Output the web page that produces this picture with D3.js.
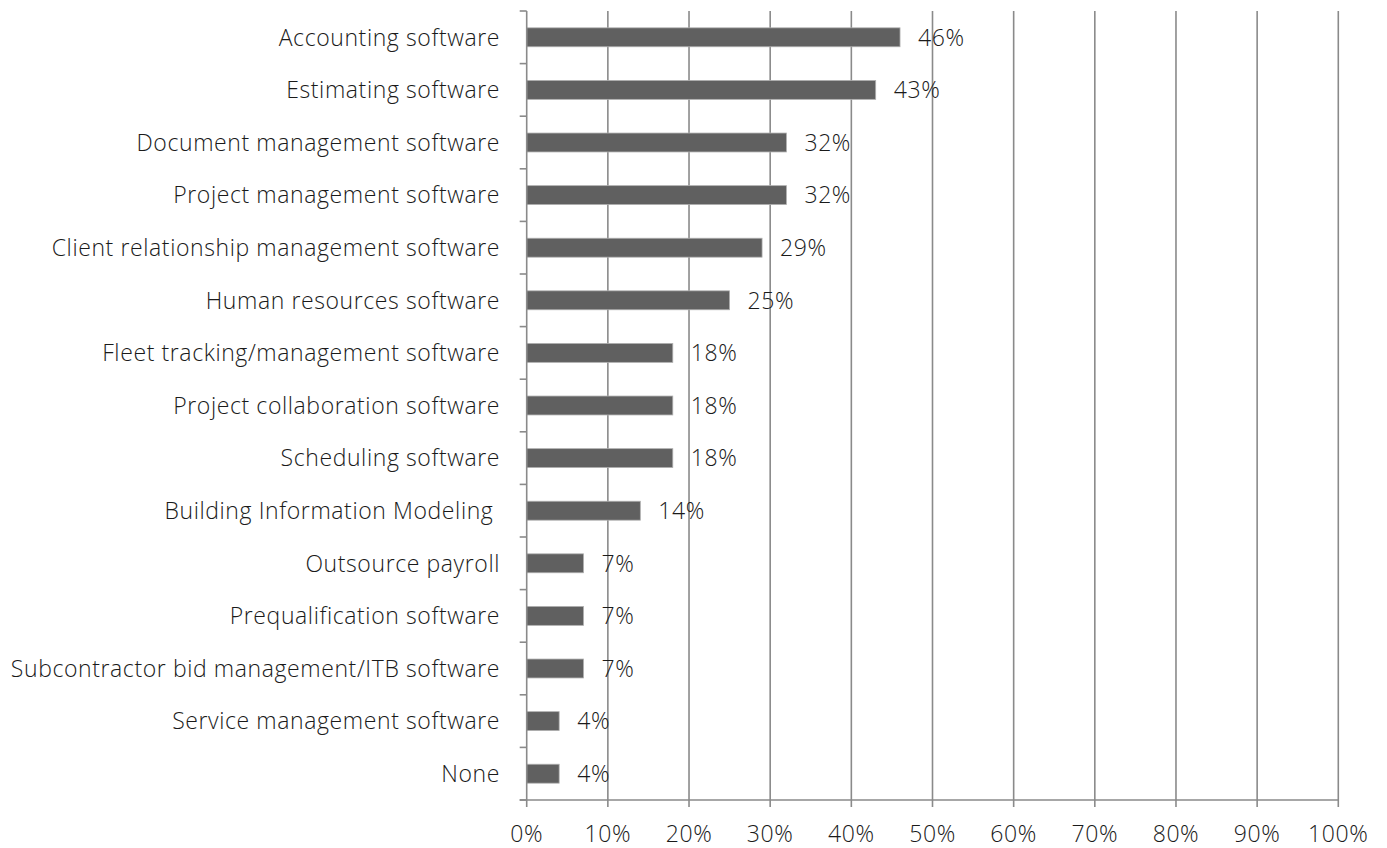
<!DOCTYPE html>
<html><head><meta charset="utf-8">
<script src="https://cdn.jsdelivr.net/npm/d3@7"></script>
<style>
body{margin:0;background:#fff;}
svg text{font-family:"Open Sans","Noto Sans",sans-serif;font-weight:300;fill:#1a1a1a;}
</style></head>
<body><svg id="c" width="1387" height="848"></svg>
<script>
const categories = ["Accounting software","Estimating software","Document management software","Project management software","Client relationship management software","Human resources software","Fleet tracking/management software","Project collaboration software","Scheduling software","Building Information Modeling ","Outsource payroll","Prequalification software","Subcontractor bid management/ITB software","Service management software","None"];
const values = [46,43,32,32,29,25,18,18,18,14,7,7,7,4,4];
const xTicks = [0,10,20,30,40,50,60,70,80,90,100];

const svg = d3.select("#c");
const pLeft = 526.7, pRight = 1338.3, pTop = 11, pBottom = 800;
const fs = 23, ls = "0.6px";
const x = d3.scaleLinear().domain([0,100]).range([pLeft,pRight]);
const y = d3.scaleBand().domain(categories).range([pTop,pBottom]).paddingInner(0.64).paddingOuter(0.32);

// gridlines
svg.append("g").selectAll("line").data(xTicks.slice(1)).join("line")
  .attr("x1",d=>x(d)).attr("x2",d=>x(d)).attr("y1",pTop).attr("y2",pBottom+7)
  .attr("stroke","#8a8a8a").attr("stroke-width",1.6);

// bars
svg.append("g").selectAll("rect").data(values).join("rect")
  .attr("x",x(0)).attr("y",(d,i)=>y(categories[i]))
  .attr("width",d=>x(d)-x(0)).attr("height",y.bandwidth())
  .attr("fill","#606060").attr("stroke","#b0b0b0").attr("stroke-width",0.8);

// value labels
svg.append("g").selectAll("text").data(values).join("text")
  .attr("x",d=>x(d)+18).attr("y",(d,i)=>y(categories[i])+y.bandwidth()/2)
  .attr("dy","0.36em").attr("font-size",fs).attr("letter-spacing",ls).text(d=>d+"%");

// y axis line and ticks
const yb = d3.scaleLinear().domain([0,categories.length]).range([pTop,pBottom]);
svg.append("line").attr("x1",pLeft).attr("x2",pLeft).attr("y1",pTop).attr("y2",pBottom+7)
  .attr("stroke","#8a8a8a").attr("stroke-width",1.6);
svg.append("g").selectAll("line").data(d3.range(categories.length+1)).join("line")
  .attr("x1",pLeft-7).attr("x2",pLeft).attr("y1",d=>yb(d)).attr("y2",d=>yb(d))
  .attr("stroke","#8a8a8a").attr("stroke-width",1.6);

// x axis line
svg.append("line").attr("x1",pLeft-7).attr("x2",pRight).attr("y1",pBottom).attr("y2",pBottom)
  .attr("stroke","#8a8a8a").attr("stroke-width",1.6);

// x tick labels
svg.append("g").selectAll("text").data(xTicks).join("text")
  .attr("x",d=>x(d)).attr("y",842).attr("text-anchor","middle").attr("font-size",fs)
  .attr("letter-spacing",ls).text(d=>d+"%");

// category labels
svg.append("g").selectAll("text").data(categories).join("text")
  .attr("x",500).attr("y",d=>y(d)+y.bandwidth()/2).attr("dy","0.36em")
  .attr("text-anchor","end").attr("font-size",fs).attr("letter-spacing",ls).style("white-space","pre")
  .text(d=>d);
</script></body></html>
